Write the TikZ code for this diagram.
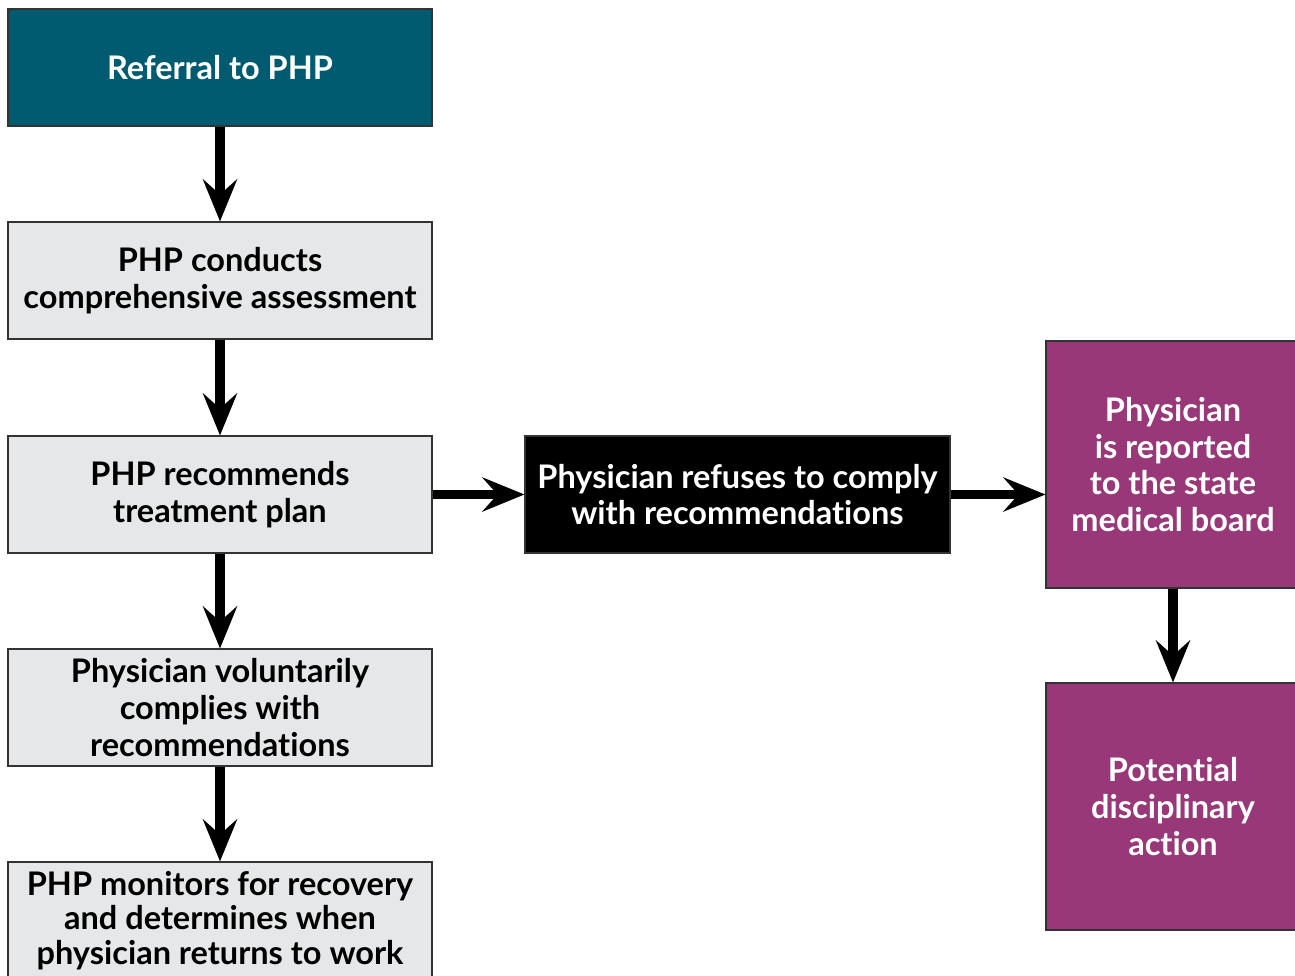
\documentclass[tikz,border=0pt]{standalone}
\usepackage{fontspec}
\setmainfont{Lato}[Ligatures={NoCommon}]
\usepackage{tikz}
\usetikzlibrary{arrows.meta}

\definecolor{phpteal}{HTML}{005A70}
\definecolor{phpgray}{HTML}{E6E7E8}
\definecolor{phppurple}{HTML}{993878}

\tikzset{
  box/.style={draw=black!80, line width=0.6pt, minimum width=8.48cm, minimum height=2.34cm,
    align=center, font=\bfseries\fontsize{18.5}{21}\selectfont},
  graybox/.style={box, fill=phpgray, text=black},
  flow/.style={line width=5.5pt, -{Stealth[length=0.84cm, width=0.68cm, inset=0.3cm]}}
}

\begin{document}
\begin{tikzpicture}
  \useasboundingbox (0,0) rectangle (25.9,-19.5);

  % left column
  \node[box, fill=phpteal, text=white] (referral) at (4.4,-1.35) {Referral to PHP};
  \node[graybox] (assess) at (4.4,-5.61) {PHP conducts\\comprehensive assessment};
  \node[graybox] (plan) at (4.4,-9.89) {PHP recommends\\treatment plan};
  \node[graybox] (comply) at (4.4,-14.15) {Physician voluntarily\\complies with\\recommendations};
  \node[graybox, font=\bfseries\fontsize{18.5}{19.5}\selectfont] (monitor) at (4.4,-18.41)
    {PHP monitors for recovery\\and determines when\\physician returns to work};

  % refusal path
  \node[box, minimum width=8.5cm, fill=black, text=white] (refuse) at (14.75,-9.89)
    {Physician refuses to comply\\with recommendations};
  \node[box, minimum width=5.08cm, minimum height=4.94cm, fill=phppurple, text=white]
    (report) at (23.46,-9.29) {Physician\\is reported\\to the state\\medical board};
  \node[box, minimum width=5.08cm, minimum height=4.94cm, fill=phppurple, text=white]
    (discipline) at (23.46,-16.13) {Potential\\disciplinary\\action};

  \draw[flow] (referral) -- (assess);
  \draw[flow] (assess) -- (plan);
  \draw[flow] (plan) -- (comply);
  \draw[flow] (comply) -- (monitor);
  \draw[flow] (plan) -- (refuse);
  \draw[flow] (refuse.east) -- (refuse.east -| report.west);
  \draw[flow] (report) -- (discipline);

\end{tikzpicture}
\end{document}
